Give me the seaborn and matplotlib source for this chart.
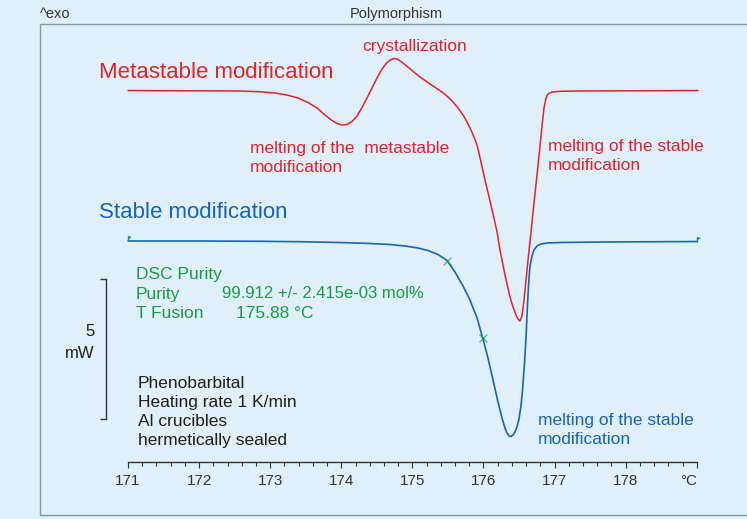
import numpy as np
import matplotlib
matplotlib.use("Agg")
import matplotlib.pyplot as plt
import matplotlib.transforms as mtransforms
from matplotlib.patches import Rectangle
from matplotlib.path import Path
import seaborn as sns

# DSC curves: temperature (degC) and heat flow (mW, exo up)
stable_t = [171.000, 172.013, 172.857, 173.419, 173.982, 174.404, 174.685, 174.896,
            175.079, 175.219, 175.360, 175.487, 175.599, 175.712, 175.810, 175.909,
            175.993, 176.063, 176.134, 176.204, 176.260, 176.302, 176.331, 176.359,
            176.387, 176.415, 176.443, 176.471, 176.499, 176.527, 176.549, 176.570,
            176.584, 176.598, 176.612, 176.626, 176.640, 176.654, 176.682, 176.710,
            176.753, 176.809, 176.893, 177.076, 177.639, 179.000]
stable_mw = [0.000, 0.000, -0.011, -0.025, -0.054, -0.089, -0.125, -0.179,
             -0.250, -0.339, -0.482, -0.696, -1.107, -1.607, -2.107, -2.750,
             -3.500, -4.179, -4.964, -5.750, -6.321, -6.679, -6.857, -6.964,
             -6.982, -6.929, -6.821, -6.643, -6.357, -5.893, -5.321, -4.607,
             -4.071, -3.464, -2.643, -1.929, -1.321, -0.893, -0.536, -0.321,
             -0.179, -0.107, -0.071, -0.054, -0.036, -0.018]

meta_t = [171.000, 172.013, 172.575, 172.857, 173.068, 173.236, 173.391, 173.532,
          173.658, 173.771, 173.869, 173.940, 174.010, 174.080, 174.151, 174.221,
          174.291, 174.362, 174.432, 174.502, 174.572, 174.643, 174.699, 174.741,
          174.783, 174.840, 174.910, 174.994, 175.107, 175.219, 175.332, 175.416,
          175.501, 175.571, 175.641, 175.712, 175.768, 175.824, 175.866, 175.909,
          175.965, 176.021, 176.077, 176.134, 176.190, 176.232, 176.288, 176.331,
          176.373, 176.415, 176.457, 176.485, 176.513, 176.541, 176.570, 176.598,
          176.626, 176.668, 176.710, 176.753, 176.795, 176.823, 176.851, 176.879,
          176.907, 176.963, 177.076, 177.357, 179.017]
meta_mw = [5.375, 5.364, 5.357, 5.329, 5.286, 5.214, 5.107, 4.946,
           4.750, 4.500, 4.304, 4.196, 4.143, 4.161, 4.268, 4.464,
           4.768, 5.107, 5.464, 5.821, 6.143, 6.375, 6.482, 6.518,
           6.500, 6.411, 6.268, 6.089, 5.857, 5.661, 5.464, 5.321,
           5.143, 4.964, 4.750, 4.500, 4.250, 3.964, 3.714, 3.429,
           2.821, 2.179, 1.590, 0.964, 0.330, -0.321, -1.036, -1.536,
           -2.000, -2.357, -2.643, -2.786, -2.857, -2.679, -2.107, -1.393,
           -0.679, 0.321, 1.357, 2.357, 3.393, 4.107, 4.750, 5.107,
           5.250, 5.321, 5.346, 5.357, 5.375]

purity_t = [175.49, 175.99]          # purity evaluation marks
limit_t = [171.0, 179.0]             # integration limits
major_ticks = [171, 172, 173, 174, 175, 176, 177, 178, 179]
tick_labels = ["171", "172", "173", "174", "175", "176", "177", "178", "°C"]
scale_bar = [-6.36, -1.36]           # 5 mW

RED = "#e8202a"
BLUE = "#1a63ae"
GREEN = "#1b9a45"
BG = "#dff0fa"
INK = "#1e1e1e"

sns.set_theme(style="white", rc={"axes.facecolor": BG, "figure.facecolor": BG})
plt.rcParams["font.family"] = ["Liberation Sans", "DejaVu Sans"]

W, H = 747, 519
fig = plt.figure(figsize=(W / 100, H / 100), dpi=100)
ax = fig.add_axes([0, 0, 1, 1])
ax.set_facecolor(BG)

# pixel transform (origin top-left) for the annotation layout
pix = mtransforms.Affine2D().scale(1 / W, -1 / H).translate(0, 1) + fig.transFigure

sns.lineplot(x=meta_t, y=meta_mw, color=RED, lw=1.1, sort=False, estimator=None, ax=ax)
sns.lineplot(x=stable_t, y=stable_mw, color=BLUE, lw=1.2, sort=False, estimator=None, ax=ax)

mark_y = np.interp(purity_t, stable_t, stable_mw)
ax.plot(purity_t, mark_y, ls="none", marker="x", ms=6, mew=0.8, color=GREEN, alpha=0.8)
flag = Path([(0, 0), (0, 1.0), (0.45, 0.85), (0, 0.7)],
            [Path.MOVETO, Path.LINETO, Path.LINETO, Path.LINETO])
lim_y = np.interp(limit_t, stable_t, stable_mw)
ax.plot(limit_t, lim_y, ls="none", marker=flag, ms=7, mew=1.0, color=GREEN, mfc=GREEN)

ax.set_xlim(171 - 128 / 71.1, 171 + 619 / 71.1)
ax.set_ylim(-278 / 28, 241 / 28)

for s in ["top", "right"]:
    ax.spines[s].set_visible(False)
ax.spines["bottom"].set_position(("data", -221 / 28))
ax.spines["bottom"].set_bounds(171, 179)
ax.spines["left"].set_position(("data", 171 - 22 / 71.1))
ax.spines["left"].set_bounds(*scale_bar)
for s in ["bottom", "left"]:
    ax.spines[s].set_color("#333333")
    ax.spines[s].set_linewidth(1.0)

ax.set_xticks(major_ticks)
ax.set_xticklabels(tick_labels)
ax.get_xticklabels()[-1].set_horizontalalignment("right")
ax.set_xticks(np.arange(171, 179.01, 0.2), minor=True)
ax.set_yticks(scale_bar)
ax.set_yticklabels([])
ax.tick_params(axis="x", which="major", direction="out", length=4.3, width=0.8,
               colors="#333333", labelsize=11, pad=4.5, bottom=True)
ax.tick_params(axis="x", which="minor", direction="out", length=2.8, width=0.8,
               colors="#333333", bottom=True)
ax.tick_params(axis="y", direction="out", length=4.3, width=1.0, colors="#333333", left=True)
ax.grid(False)

# frame and header
fig.add_artist(Rectangle((40, 515), 720, -491, transform=pix, fill=False,
                         ec="#8d969b", lw=1.0))
fig.text(40, 14, "^exo", transform=pix, fontsize=10.5, color="#333333", va="center")
fig.text(396, 14, "Polymorphism", transform=pix, fontsize=10.5, color="#333333",
         va="center", ha="center")


def block(x, y, lines, color, size=12.5, step=19):
    for i, line in enumerate(lines):
        fig.text(x, y + i * step, line, transform=pix, fontsize=size, color=color,
                 va="center", ha="left")


block(99, 72, ["Metastable modification"], RED, size=16)
block(362, 46, ["crystallization"], RED)
block(250, 148, ["melting of the  metastable", "modification"], RED)
block(548, 147, ["melting of the stable", "modification"], RED)
block(99, 212, ["Stable modification"], BLUE, size=16)
block(538, 421, ["melting of the stable", "modification"], BLUE)
block(136, 275, ["DSC Purity", "Purity", "T Fusion"], GREEN)
fig.text(222, 294, "99.912 +/- 2.415e-03 mol%", transform=pix, fontsize=12,
         color=GREEN, va="center")
fig.text(236, 313, "175.88 °C", transform=pix, fontsize=12.5, color=GREEN, va="center")
block(138, 383, ["Phenobarbital", "Heating rate 1 K/min", "Al crucibles",
                 "hermetically sealed"], INK)
fig.text(95, 332, "5", transform=pix, fontsize=12, color=INK, va="center", ha="right")
fig.text(95, 353, "mW", transform=pix, fontsize=12, color=INK, va="center", ha="right")

fig.savefig("out.png", dpi=100, facecolor=BG)
